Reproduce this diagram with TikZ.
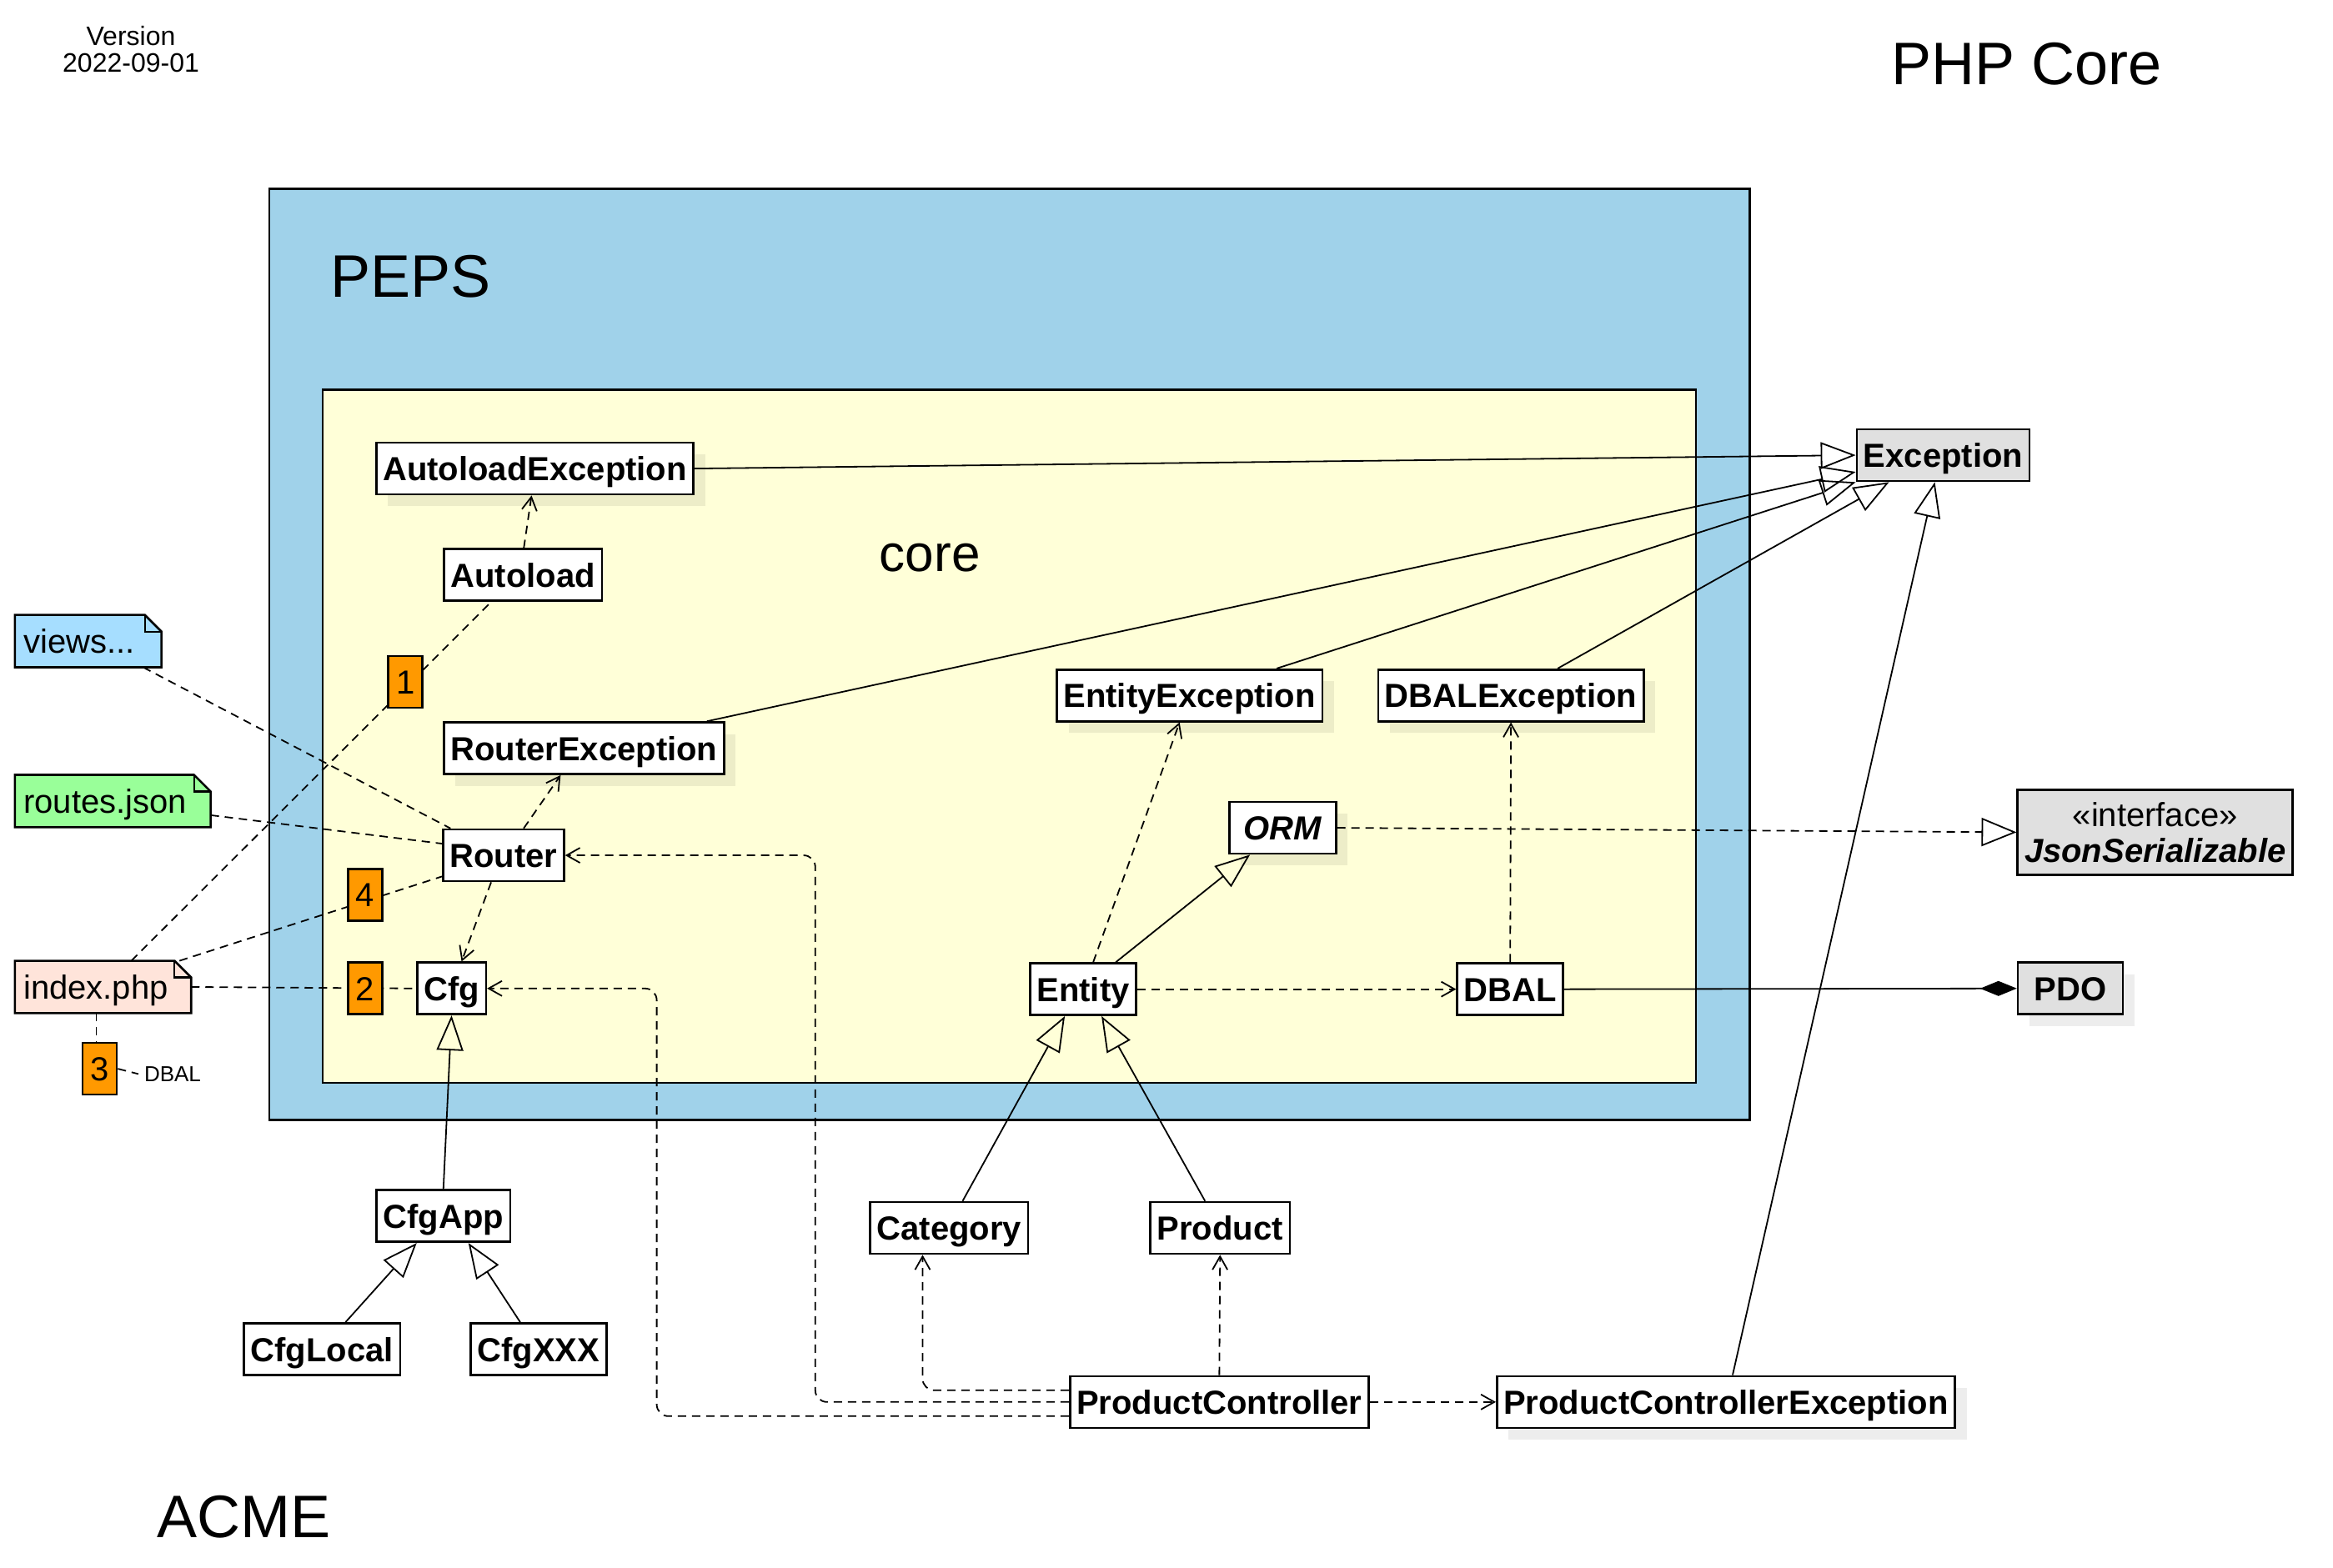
\documentclass[tikz,border=0pt]{standalone}
\usepackage{fontspec}
\setmainfont{Liberation Sans}
\usetikzlibrary{arrows.meta,shadows,backgrounds}
\definecolor{pepsblue}{RGB}{160,210,234}
\definecolor{coreyellow}{RGB}{255,255,216}
\definecolor{extgray}{RGB}{224,224,224}
\definecolor{badgeorange}{RGB}{255,153,0}
\definecolor{viewsblue}{RGB}{166,222,255}
\definecolor{routesgreen}{RGB}{153,255,153}
\definecolor{indexpink}{RGB}{255,228,218}
\tikzset{
  cls/.style={draw, line width=1.3pt, fill=white, font=\fontsize{20}{24}\selectfont\bfseries, inner xsep=4pt, inner ysep=0pt, minimum height=31pt, text height=14.5pt, text depth=0pt},
  ext/.style={cls, fill=extgray},
  shad/.style={general shadow={fill=black, opacity=0.07, shadow xshift=7pt, shadow yshift=-7pt}},
  badge/.style={draw, line width=1.3pt, fill=badgeorange, font=\fontsize{20}{24}\selectfont, minimum width=20.5pt, minimum height=31pt, inner sep=0pt, text height=14.5pt, text depth=0pt},
  note/.style={font=\fontsize{20}{24}\selectfont, anchor=west, align=left, inner xsep=5pt, inner ysep=0pt, minimum height=31pt, text height=14.5pt, text depth=0pt},
  title/.style={font=\fontsize{36}{40}\selectfont},
  link/.style={line width=0.9pt},
  dashline/.style={line width=0.9pt, dash pattern=on 5pt off 3.5pt},
  dep/.style={dashline, -{Straight Barb[length=8pt, width=9pt]}},
  inh/.style={link, -{Triangle[open, length=21pt, width=16pt]}},
  real/.style={dashline, -{Triangle[open, length=21pt, width=17pt]}},
  comp/.style={link, -{Diamond[length=22pt, width=9pt]}}
}
\newcommand{\notefold}[2]{%
  \begin{scope}[on background layer]
    \filldraw[fill=#2, line width=1.3pt] (#1.south west) -- (#1.north west) -- ([xshift=-10pt]#1.north east) -- ([yshift=-10pt]#1.north east) -- (#1.south east) -- cycle;
    \draw[line width=1.1pt] ([xshift=-10pt]#1.north east) |- ([yshift=-10pt]#1.north east);
  \end{scope}}
\begin{document}
\begin{tikzpicture}[x=0.8922pt, y=-0.8922pt]
\useasboundingbox (0,0) rectangle (1568,1054);
\draw[fill=pepsblue, line width=1.2pt] (181,127) rectangle (1176,753);
\draw[fill=coreyellow, line width=1.2pt] (217,262) rectangle (1140,728);
\node[title] (peps) at (276,186) {PEPS};
\node[font=\fontsize{31}{36}\selectfont] (core) at (625,375) {core};
\node[title] (php) at (1362,43) {PHP Core};
\node[title] (acme) at (164,1020) {ACME};
\node[align=center, font=\fontsize{16}{16}\selectfont] (version) at (88,33) {Version\\2022-09-01};

\node[cls, shad] (autoloadexc) at (359.5,315) {AutoloadException};
\node[cls] (autoload) at (351.5,386.5) {Autoload};
\node[cls, shad] (routerexc) at (392.5,503) {RouterException};
\node[cls] (router) at (338.5,575) {Router};
\node[cls] (cfg) at (303.5,664.5) {Cfg};
\node[cls, shad] (entityexc) at (799.5,467.5) {EntityException};
\node[cls, shad] (dbalexc) at (1015.5,467.5) {DBALException};
\node[cls, shad, minimum width=64pt, font=\fontsize{20}{24}\selectfont\bfseries\itshape] (orm) at (862,556.5) {ORM};
\node[cls] (entity) at (728,665) {Entity};
\node[cls] (dbal) at (1015,665) {DBAL};
\node[ext] (exception) at (1306,306) {Exception};
\node[draw, line width=1.3pt, fill=extgray, align=center, minimum width=165pt, minimum height=51pt, inner sep=0pt, font=\fontsize{20}{21.5}\selectfont] (json) at (1448.5,559.5) {«interface»\\\textbf{\textit{JsonSerializable}}};
\node[ext, shad, minimum width=63pt] (pdo) at (1391.5,664.5) {PDO};
\node[cls] (cfgapp) at (298,817.5) {CfgApp};
\node[cls] (cfglocal) at (216.5,907) {CfgLocal};
\node[cls] (cfgxxx) at (362,907) {CfgXXX};
\node[cls] (category) at (638,825.5) {Category};
\node[cls] (product) at (820,825.5) {Product};
\node[cls] (prodctrl) at (819.5,942.5) {ProductController};
\node[cls, shad] (prodctrlexc) at (1160,942.5) {ProductControllerException};

\node[note, text width=77.5pt] (views) at (10,431) {views...};
\notefold{views}{viewsblue}
\node[note, text width=107pt] (routes) at (10,538.5) {routes.json};
\notefold{routes}{routesgreen}
\node[note, text width=95.3pt] (index) at (10,663.5) {index.php};
\notefold{index}{indexpink}
\node[badge] (b3) at (67,718.5) {3};
\node[font=\fontsize{13}{15}\selectfont] (dballabel) at (116,722) {DBAL};

\draw[inh] (autoloadexc.east) -- (exception.west);
\draw[inh] ([xshift=-11pt]routerexc.north east) -- ([yshift=-10pt]exception.west);
\draw[inh] ([xshift=-28pt]entityexc.north east) -- (exception.south west);
\draw[inh] ([xshift=28pt]dbalexc.north) -- ([xshift=20pt]exception.south west);
\draw[inh] ([xshift=4pt]prodctrlexc.north) -- ([xshift=-5pt]exception.south);
\draw[dep] ([xshift=0.5pt]autoload.north) -- ([xshift=-2pt]autoloadexc.south);
\draw[dashline] ([xshift=17pt]index.north) -- ([xshift=-19pt]autoload.south);
\draw[dashline] ([xshift=-7pt]index.north east) -- ([yshift=3.5pt]router.south west);
\draw[dashline] (index.east) -- (cfg.west);
\draw[dashline] ([xshift=-4pt]index.south) -- ([xshift=-4pt]index.south |- b3.north);
\draw[dashline] (b3.east) -- (dballabel.west);
\draw[dashline] ([xshift=-11pt]views.south east) -- ([xshift=5pt]router.north west);
\draw[dashline] ([yshift=-8.5pt]routes.east) -- ([yshift=7pt]router.west);
\draw[dep] ([xshift=12pt]router.north) -- ([xshift=-14pt]routerexc.south);
\draw[dep] ([xshift=-7.5pt]router.south) -- ([xshift=6pt]cfg.north);
\draw[inh] (cfgapp.north) -- (cfg.south);
\draw[inh] ([xshift=14pt]cfglocal.north) -- ([xshift=-16pt]cfgapp.south);
\draw[inh] ([xshift=-11pt]cfgxxx.north) -- ([xshift=15pt]cfgapp.south);
\draw[inh] ([xshift=8pt]category.north) -- ([xshift=-11pt]entity.south);
\draw[inh] ([xshift=-9pt]product.north) -- ([xshift=11pt]entity.south);
\draw[inh] ([xshift=19.5pt]entity.north) -- ([xshift=-19.5pt]orm.south);
\draw[dep] ([xshift=6pt]entity.north) -- ([xshift=-6pt]entityexc.south);
\draw[dep] (entity.east) -- (dbal.west);
\draw[dep] (dbal.north) -- (dbalexc.south);
\draw[comp] (dbal.east) -- (pdo.west);
\draw[real] (orm.east) -- (json.west);
\draw[dep] (prodctrl.north) -- (product.south);
\draw[dep] (prodctrl.east) -- (prodctrlexc.west);
\draw[dep, rounded corners=7pt] ([yshift=7pt]prodctrl.west) -| ([xshift=-16pt]category.south);
\draw[dep, rounded corners=7pt] (prodctrl.west) -| ([xshift=150pt]router.east) -- (router.east);
\draw[dep, rounded corners=7pt] ([yshift=-8.5pt]prodctrl.west) -| ([xshift=101.7pt]cfg.east) -- (cfg.east);

\node[badge] (b1) at (272.5,458.5) {1};
\node[badge] (b4) at (245.5,601.5) {4};
\node[badge] (b2) at (245.5,664.5) {2};
\end{tikzpicture}
\end{document}
